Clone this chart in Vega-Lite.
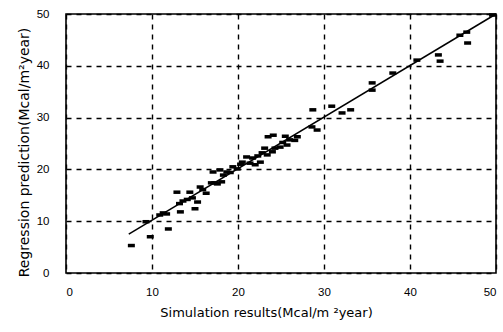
{
  "$schema": "https://vega.github.io/schema/vega-lite/v6.json",
  "width": 430,
  "height": 259,
  "autosize": {"type": "none"},
  "padding": {"left": 66, "top": 14, "right": 7, "bottom": 59},
  "background": "white",
  "config": {
    "view": {"stroke": "black", "strokeWidth": 1.6},
    "font": "Liberation Sans",
    "axis": {
      "grid": true,
      "gridColor": "black",
      "gridDash": [5, 5],
      "gridWidth": 1.4,
      "gridOpacity": 1,
      "ticks": false,
      "domain": false,
      "labelColor": "black",
      "labelFontSize": 11.5,
      "labelFont": "Liberation Sans",
      "titleColor": "black",
      "titleFont": "DejaVu Sans",
      "titleFontSize": 13,
      "titleFontWeight": "normal"
    }
  },
  "datasets": {
    "pts": [
      {"sim": 7.6, "reg": 5.3}, {"sim": 9.8, "reg": 7.0}, {"sim": 11.9, "reg": 8.5}, {"sim": 9.3, "reg": 9.9},
      {"sim": 10.9, "reg": 11.2}, {"sim": 11.3, "reg": 11.6}, {"sim": 11.7, "reg": 11.4}, {"sim": 13.3, "reg": 11.8},
      {"sim": 13.2, "reg": 13.4}, {"sim": 13.6, "reg": 13.9}, {"sim": 12.9, "reg": 15.6}, {"sim": 15.0, "reg": 12.4},
      {"sim": 15.3, "reg": 13.7}, {"sim": 14.4, "reg": 15.6}, {"sim": 14.7, "reg": 14.5}, {"sim": 14.1, "reg": 14.2},
      {"sim": 15.6, "reg": 16.6}, {"sim": 16.3, "reg": 15.4}, {"sim": 15.9, "reg": 16.1}, {"sim": 16.9, "reg": 17.4},
      {"sim": 17.3, "reg": 17.4}, {"sim": 17.1, "reg": 19.5}, {"sim": 17.9, "reg": 19.9}, {"sim": 18.3, "reg": 18.9},
      {"sim": 18.1, "reg": 17.6}, {"sim": 18.7, "reg": 19.5}, {"sim": 17.6, "reg": 17.2}, {"sim": 19.4, "reg": 20.5},
      {"sim": 19.1, "reg": 19.4}, {"sim": 19.9, "reg": 20.1}, {"sim": 20.3, "reg": 21.0}, {"sim": 20.5, "reg": 21.4},
      {"sim": 21.0, "reg": 22.4}, {"sim": 21.4, "reg": 21.2}, {"sim": 21.7, "reg": 22.2}, {"sim": 22.0, "reg": 20.9},
      {"sim": 22.6, "reg": 21.4}, {"sim": 22.8, "reg": 23.2}, {"sim": 23.1, "reg": 24.1}, {"sim": 22.3, "reg": 22.6},
      {"sim": 23.4, "reg": 22.8}, {"sim": 24.0, "reg": 23.4}, {"sim": 24.3, "reg": 24.1}, {"sim": 24.9, "reg": 24.3},
      {"sim": 25.7, "reg": 24.7}, {"sim": 23.5, "reg": 26.3}, {"sim": 24.1, "reg": 26.6}, {"sim": 25.5, "reg": 26.4},
      {"sim": 26.0, "reg": 25.7}, {"sim": 26.6, "reg": 25.6}, {"sim": 26.9, "reg": 26.3}, {"sim": 25.2, "reg": 25.2},
      {"sim": 28.6, "reg": 28.2}, {"sim": 29.2, "reg": 27.6}, {"sim": 28.7, "reg": 31.5}, {"sim": 30.9, "reg": 32.2},
      {"sim": 32.1, "reg": 30.9}, {"sim": 33.1, "reg": 31.5}, {"sim": 35.6, "reg": 36.7}, {"sim": 35.6, "reg": 35.3},
      {"sim": 38.0, "reg": 38.6}, {"sim": 40.8, "reg": 41.1}, {"sim": 43.3, "reg": 42.1}, {"sim": 43.5, "reg": 40.9},
      {"sim": 45.8, "reg": 45.9}, {"sim": 46.6, "reg": 46.5}, {"sim": 46.7, "reg": 44.4}, {"sim": 49.6, "reg": 49.8}
    ],
    "fit": [
      {"sim": 7.3, "reg": 7.5},
      {"sim": 50, "reg": 50}
    ]
  },
  "layer": [
    {
      "data": {"name": "pts"},
      "mark": {"type": "point", "shape": "M-1,-0.5H1V0.5H-1Z", "filled": true, "color": "black", "size": 49, "opacity": 1},
      "encoding": {
        "x": {
          "field": "sim", "type": "quantitative",
          "scale": {"domain": [0, 50], "nice": false},
          "axis": {"values": [0, 10, 20, 30, 40, 50], "labelPadding": 13, "title": "Simulation results(Mcal/m ²year)", "titlePadding": 9, "titleX": 200}
        },
        "y": {
          "field": "reg", "type": "quantitative",
          "scale": {"domain": [0, 50], "nice": false},
          "axis": {"values": [0, 10, 20, 30, 40, 50], "labelPadding": 17, "title": "Regression prediction(Mcal/m²year)", "titlePadding": 5, "titleFontSize": 14, "titleY": 138}
        }
      }
    },
    {
      "data": {"name": "fit"},
      "mark": {"type": "line", "color": "black", "strokeWidth": 1.5},
      "encoding": {
        "x": {"field": "sim", "type": "quantitative"},
        "y": {"field": "reg", "type": "quantitative"}
      }
    }
  ]
}
